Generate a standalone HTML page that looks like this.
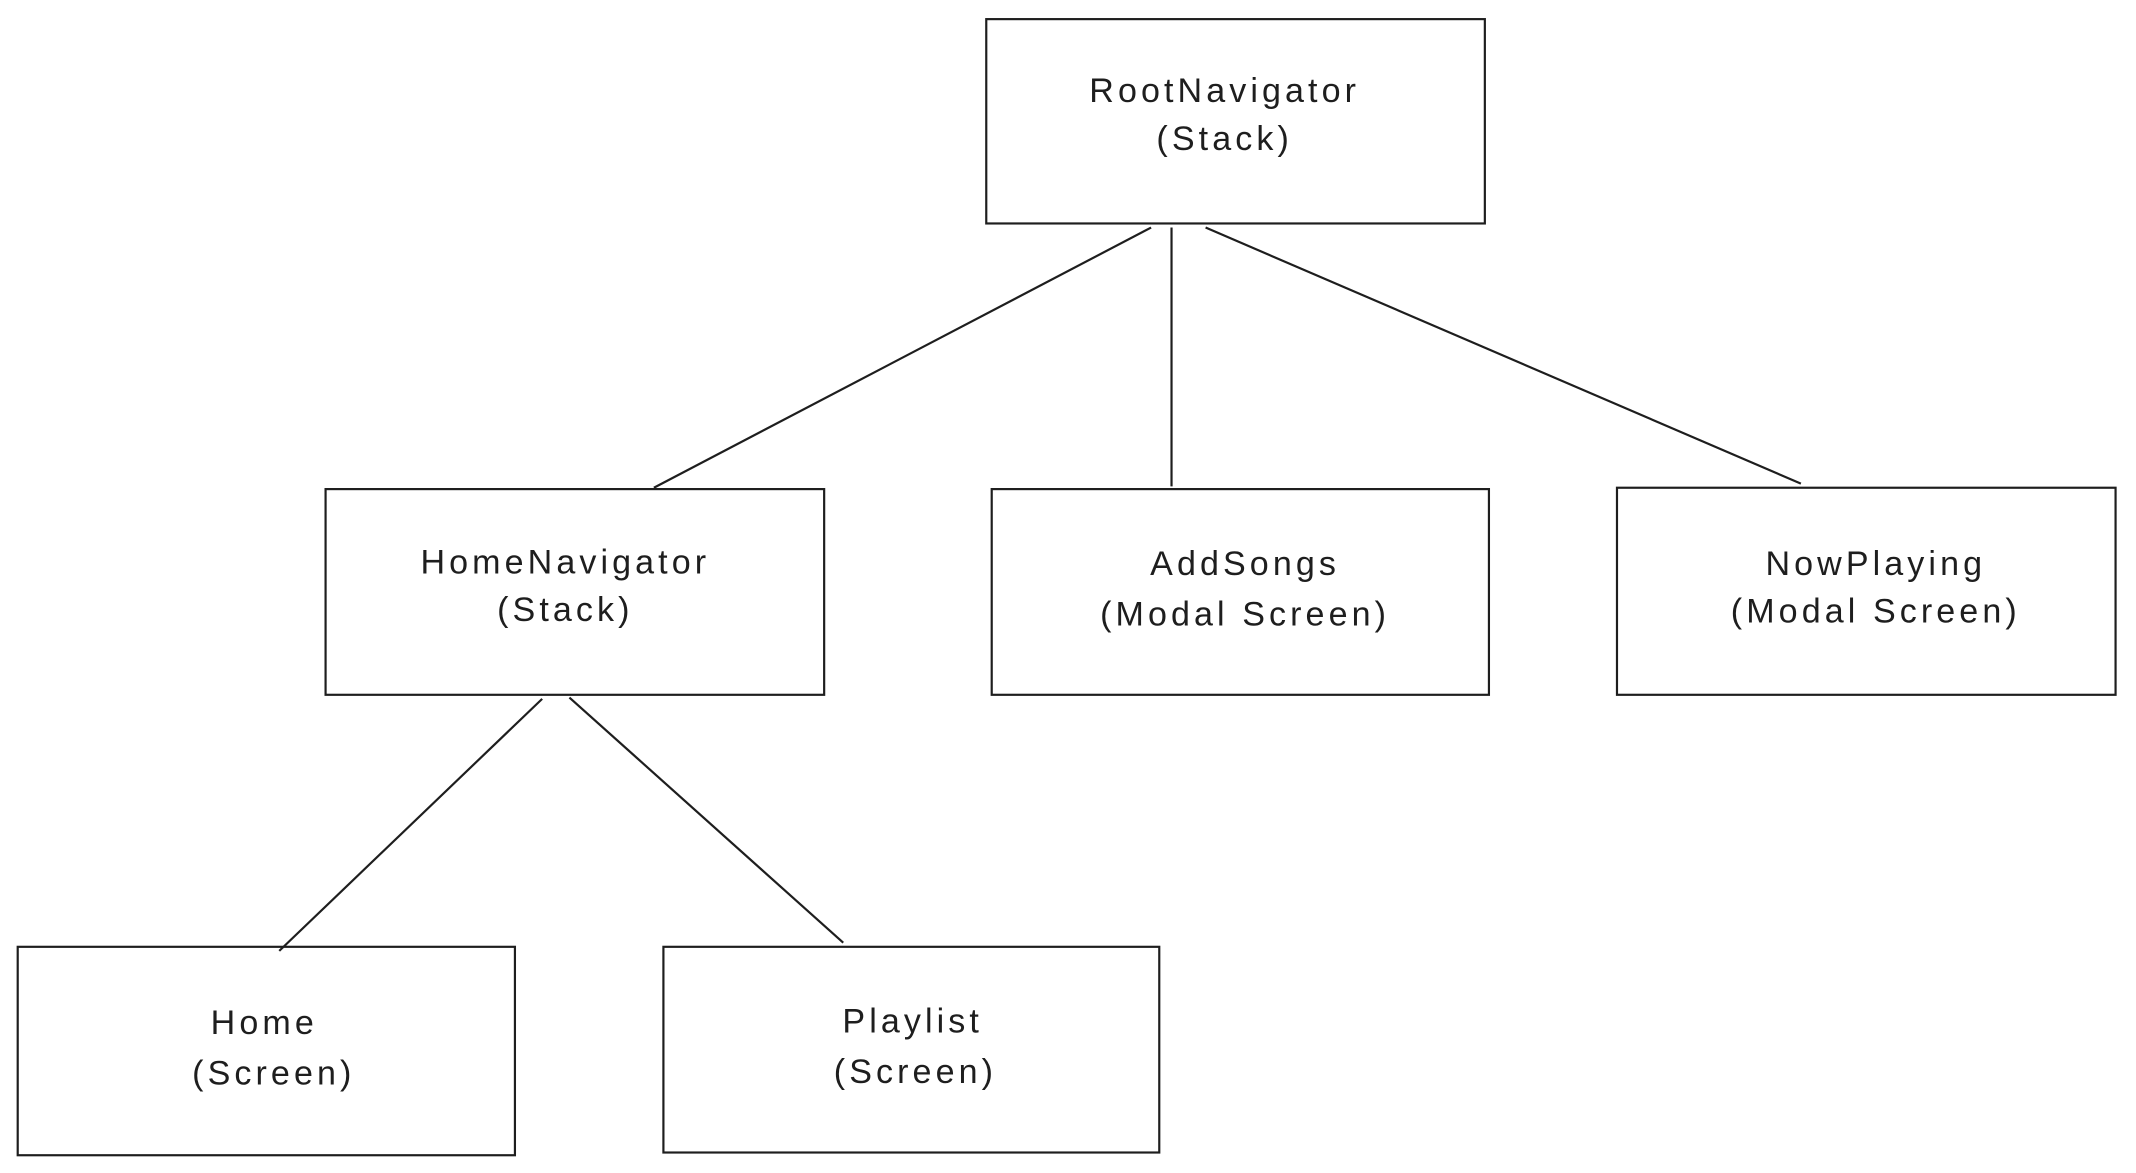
<!DOCTYPE html>
<html><head><meta charset="utf-8"><style>html,body{margin:0;padding:0;background:#fff;}svg{display:block}</style></head>
<body>
<svg width="2136" height="1173" viewBox="0 0 1568 861" xmlns="http://www.w3.org/2000/svg">
<rect width="1568" height="861" fill="#fff"/>
<g fill="none" stroke="#1e1e1e" stroke-width="1.6">
<rect x="724" y="14" width="366" height="150"/>
<rect x="239" y="359" width="366" height="151"/>
<rect x="728" y="359" width="365" height="151"/>
<rect x="1187" y="358" width="366" height="152"/>
<rect x="13" y="695" width="365" height="153"/>
<rect x="487" y="695" width="364" height="151"/>
<line x1="845" y1="167" x2="480" y2="358"/>
<line x1="860" y1="167" x2="860" y2="357"/>
<line x1="885" y1="167" x2="1322" y2="355"/>
<line x1="398" y1="513" x2="205" y2="698"/>
<line x1="418" y1="512" x2="619" y2="692"/>
</g>
<g font-family="Liberation Sans, sans-serif" font-size="25" fill="#1e1e1e" text-anchor="middle" letter-spacing="3">
<text x="899" y="75">RootNavigator</text><text x="899" y="110">(Stack)</text>
<text x="415" y="421">HomeNavigator</text><text x="415" y="456">(Stack)</text>
<text x="914" y="422">AddSongs</text><text x="914" y="459">(Modal Screen)</text>
<text x="1377" y="422">NowPlaying</text><text x="1377" y="457">(Modal Screen)</text>
<text x="194" y="759">Home</text><text x="201" y="796">(Screen)</text>
<text x="670" y="758">Playlist</text><text x="672" y="795">(Screen)</text>
</g>
</svg>
</body></html>
